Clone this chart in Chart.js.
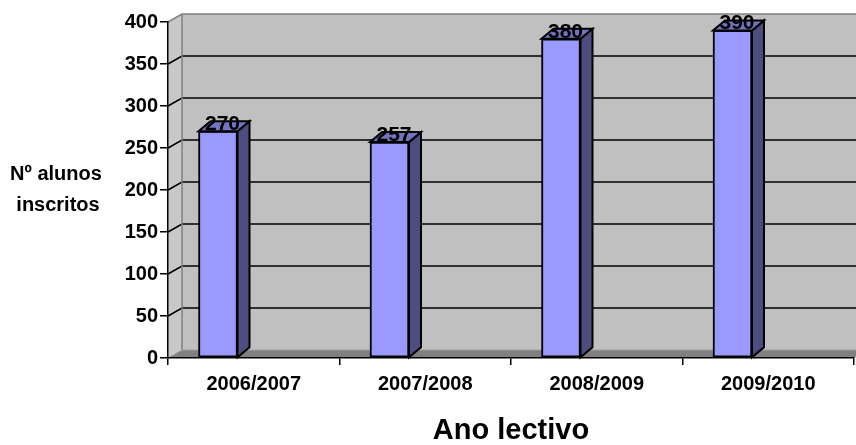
<!DOCTYPE html>
<html>
<head>
<meta charset="utf-8">
<script src="https://cdn.jsdelivr.net/npm/chart.js@4/dist/chart.umd.min.js"></script>
<style>
  html, body { margin: 0; padding: 0; background: #ffffff; }
  #wrap { width: 856px; height: 445px; }
  canvas { display: block; }
</style>
</head>
<body>
<div id="wrap"><canvas id="chart" width="856" height="445"></canvas></div>
<script>
// School years and enrolled students
const categories = ['2006/2007', '2007/2008', '2008/2009', '2009/2010'];
const alunos = [270, 257, 380, 390];
const yTicks = [0, 50, 100, 150, 200, 250, 300, 350, 400];
const yTitleLines = ['Nº alunos', 'inscritos'];
const xTitle = 'Ano lectivo';

const FONT = '"Liberation Sans", Arial, Helvetica, sans-serif';
const FRONT = '#9999FF';
const SIDE = '#4D4D80';
const TOP = '#7373C0';

// Depth of the walls/floor and of each column
const WALL_DX = 14, WALL_DY = 8;
const BAR_DX = 12, BAR_DY = 10;

function poly(ctx, pts, fill, stroke, lw) {
  ctx.beginPath();
  ctx.moveTo(pts[0][0], pts[0][1]);
  for (let i = 1; i < pts.length; i++) ctx.lineTo(pts[i][0], pts[i][1]);
  ctx.closePath();
  if (fill) { ctx.fillStyle = fill; ctx.fill(); }
  if (stroke) { ctx.strokeStyle = stroke; ctx.lineWidth = lw || 1; ctx.stroke(); }
}

// Back wall, side wall, floor and gridlines behind the columns
const walls3d = {
  id: 'walls3d',
  beforeDraw(chart) {
    const { ctx, chartArea: { left, right, top, bottom }, scales: { y } } = chart;
    ctx.save();
    ctx.fillStyle = '#ffffff';
    ctx.fillRect(0, 0, chart.width, chart.height);

    // back wall
    ctx.fillStyle = '#C0C0C0';
    ctx.fillRect(left + WALL_DX, top - WALL_DY, right - left, bottom - top);
    // side wall
    poly(ctx, [[left, top], [left + WALL_DX, top - WALL_DY], [left + WALL_DX, bottom - WALL_DY], [left, bottom]], '#C8C8C8');
    // floor
    poly(ctx, [[left, bottom], [left + WALL_DX, bottom - WALL_DY], [right + WALL_DX, bottom - WALL_DY], [right, bottom]], '#808080');

    // gridlines across side wall and back wall
    ctx.strokeStyle = '#000000';
    ctx.lineWidth = 1.6;
    y.ticks.forEach(t => {
      if (t.value <= y.min || t.value >= y.max) return;
      const py = y.getPixelForValue(t.value);
      ctx.beginPath();
      ctx.moveTo(left, py);
      ctx.lineTo(left + WALL_DX, py - WALL_DY);
      ctx.lineTo(right + WALL_DX, py - WALL_DY);
      ctx.stroke();
    });

    // wall edges
    ctx.strokeStyle = '#808080';
    ctx.lineWidth = 1.5;
    ctx.beginPath();
    ctx.moveTo(left, top);
    ctx.lineTo(left + WALL_DX, top - WALL_DY);
    ctx.lineTo(right + WALL_DX, top - WALL_DY);
    ctx.moveTo(left + WALL_DX, top - WALL_DY);
    ctx.lineTo(left + WALL_DX, bottom - WALL_DY);
    ctx.stroke();
    ctx.strokeStyle = '#A0A0A0';
    ctx.lineWidth = 1;
    ctx.beginPath();
    ctx.moveTo(left, bottom);
    ctx.lineTo(left + WALL_DX, bottom - WALL_DY);
    ctx.lineTo(right + WALL_DX, bottom - WALL_DY);
    ctx.stroke();

    // vertical axis title, two horizontal lines
    ctx.fillStyle = '#000000';
    ctx.font = 'bold 20px ' + FONT;
    ctx.textAlign = 'center';
    ctx.textBaseline = 'alphabetic';
    ctx.fillText(yTitleLines[0], 56, 180);
    ctx.fillText(yTitleLines[1], 58, 211);
    ctx.restore();
  }
};

// Side and top faces of each column, plus value labels
const columns3d = {
  id: 'columns3d',
  afterDatasetsDraw(chart) {
    const { ctx } = chart;
    const meta = chart.getDatasetMeta(0);
    ctx.save();
    ctx.lineJoin = 'miter';
    meta.data.forEach((bar) => {
      const { x, y, base, width } = bar.getProps(['x', 'y', 'base', 'width'], true);
      const l = x - width / 2, r = x + width / 2;
      poly(ctx, [[r, y], [r + BAR_DX, y - BAR_DY], [r + BAR_DX, base - BAR_DY], [r, base]], SIDE, '#000000', 2);
      poly(ctx, [[l, y], [l + BAR_DX, y - BAR_DY], [r + BAR_DX, y - BAR_DY], [r, y]], TOP, '#000000', 2);
    });
    ctx.fillStyle = '#000000';
    ctx.font = 'bold 21px ' + FONT;
    ctx.textAlign = 'center';
    ctx.textBaseline = 'alphabetic';
    meta.data.forEach((bar, i) => {
      const { x, y } = bar.getProps(['x', 'y'], true);
      ctx.fillText(String(alunos[i]), x + BAR_DX / 2 - 1.5, y - 1);
    });
    ctx.restore();
  }
};

const tickFont = { family: FONT, size: 20, weight: 'bold' };

new Chart(document.getElementById('chart'), {
  type: 'bar',
  data: {
    labels: categories,
    datasets: [{
      label: 'Nº alunos inscritos',
      data: categories.map((c, i) => ({ x: i, y: alunos[i] })),
      xAxisID: 'xb',
      yAxisID: 'y',
      backgroundColor: FRONT,
      borderColor: '#000000',
      borderWidth: 2,
      borderSkipped: false,
      barThickness: 39
    }]
  },
  options: {
    responsive: false,
    animation: false,
    devicePixelRatio: 1,
    layout: { padding: { top: 22, right: 2, left: 0, bottom: 0 } },
    plugins: { legend: { display: false }, tooltip: { enabled: false } },
    scales: {
      x: {
        type: 'category',
        position: 'bottom',
        offset: true,
        grid: { offset: true, drawOnChartArea: false, color: '#000000', lineWidth: 1.5, tickLength: 7 },
        border: { color: '#000000', width: 1.5 },
        ticks: { color: '#000000', font: tickFont, padding: 7, maxRotation: 0, autoSkip: false },
        title: {
          display: true, text: xTitle, color: '#000000', padding: 0,
          font: { family: FONT, size: 29, weight: 'bold', lineHeight: 1 }
        },
        afterFit(scale) { scale.height = 87; }
      },
      xb: {
        type: 'linear',
        display: false,
        offset: false,
        bounds: 'data',
        min: -0.2915,
        max: 3.7085
      },
      y: {
        type: 'linear',
        position: 'left',
        min: 0,
        max: 400,
        afterBuildTicks(scale) { scale.ticks = yTicks.map(v => ({ value: v })); },
        grid: { drawOnChartArea: false, color: '#000000', lineWidth: 1.5, tickLength: 8 },
        border: { color: '#000000', width: 1.5 },
        ticks: { color: '#000000', font: tickFont, padding: 2 },
        afterFit(scale) { scale.width = 168; }
      }
    }
  },
  plugins: [walls3d, columns3d]
});
</script>
</body>
</html>
